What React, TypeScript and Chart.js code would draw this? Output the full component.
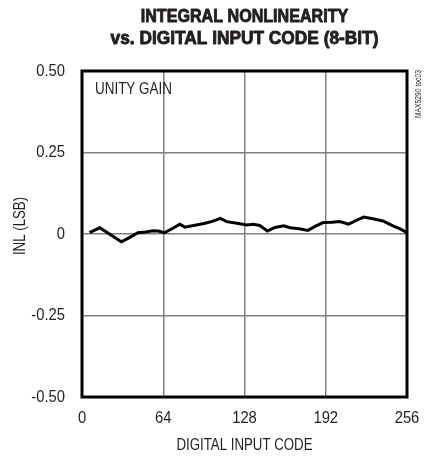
import React, { useEffect, useRef } from "react";
import { Chart, registerables } from "chart.js";

Chart.register(...registerables);

const titleLines = ["INTEGRAL NONLINEARITY", "vs. DIGITAL INPUT CODE (8-BIT)"];
const xAxisTitle = "DIGITAL INPUT CODE";
const yAxisTitle = "INL (LSB)";
const noteText = "UNITY GAIN";
const figureTag = "MAX5290 toc03";

const xTickValues = [0, 64, 128, 192, 256];
const xTickLabels = ["0", "64", "128", "192", "256"];
const yTickValues = [0.5, 0.25, 0, -0.25, -0.5];
const yTickLabels = ["0.50", "0.25", "0", "-0.25", "-0.50"];

const codes = [6, 10, 14, 18, 24, 31, 37, 44, 50, 56, 60, 65, 71, 77, 81, 88, 96, 102, 109, 114, 122, 130, 135, 140, 146, 152, 159, 164, 171, 178, 184, 190, 197, 203, 210, 216, 222, 230, 237, 245, 251, 256];
const inl = [0.004, 0.012, 0.019, 0.009, -0.006, -0.024, -0.012, 0.004, 0.006, 0.01, 0.009, 0.004, 0.016, 0.03, 0.021, 0.026, 0.032, 0.038, 0.048, 0.038, 0.033, 0.028, 0.03, 0.026, 0.009, 0.02, 0.025, 0.019, 0.016, 0.011, 0.024, 0.035, 0.036, 0.038, 0.03, 0.042, 0.052, 0.046, 0.04, 0.025, 0.015, 0.004];

const FONT = "'Liberation Sans', Arial, sans-serif";
const TEXT = "#231f20";

function drawText(
  ctx: CanvasRenderingContext2D,
  text: string,
  x: number,
  y: number,
  size: number,
  sx: number,
  align: CanvasTextAlign,
  weight = "normal",
  rot = 0,
  stroke = 0
) {
  ctx.save();
  ctx.translate(x, y);
  if (rot) ctx.rotate(rot);
  ctx.scale(sx, 1);
  ctx.font = `${weight} ${size}px ${FONT}`;
  ctx.textAlign = align;
  ctx.textBaseline = "middle";
  ctx.fillStyle = TEXT;
  ctx.fillText(text, 0, 0);
  if (stroke) {
    ctx.strokeStyle = TEXT;
    ctx.lineWidth = stroke;
    ctx.lineJoin = "round";
    ctx.strokeText(text, 0, 0);
  }
  ctx.restore();
}

const overlay = {
  id: "overlay",
  afterDraw(chart: any) {
    const { ctx, chartArea, scales } = chart;
    const { left, right, top, bottom } = chartArea;
    const cx = (left + right) / 2;
    ctx.save();
    ctx.strokeStyle = "#000";
    ctx.lineWidth = 3;
    ctx.strokeRect(left, top, right - left, bottom - top);
    ctx.restore();

    // title
    drawText(ctx, titleLines[0], cx, 16.5, 18.5, 0.87, "center", "bold", 0, 0.9);
    drawText(ctx, titleLines[1], cx, 38.5, 18.5, 0.935, "center", "bold", 0, 0.9);

    // x ticks
    xTickValues.forEach((v, i) => {
      drawText(ctx, xTickLabels[i], scales.x.getPixelForValue(v), bottom + 21.5, 17, 0.87, "center");
    });
    // y ticks
    yTickValues.forEach((v, i) => {
      drawText(ctx, yTickLabels[i], left - 17, scales.y.getPixelForValue(v), 17, 0.87, "right");
    });

    drawText(ctx, xAxisTitle, cx, bottom + 48, 17, 0.78, "center");
    drawText(ctx, yAxisTitle, 20, 226, 17, 0.78, "center", "normal", -Math.PI / 2);
    drawText(ctx, noteText, left + 13, top + 18, 17, 0.79, "left");
    drawText(ctx, figureTag, right + 12, top - 1, 9, 0.75, "right", "normal", -Math.PI / 2);
  },
};

export default function App() {
  const ref = useRef<HTMLCanvasElement>(null);
  useEffect(() => {
    if (!ref.current) return;
    const chart = new Chart(ref.current, {
      type: "line",
      data: {
        datasets: [
          {
            data: codes.map((c, i) => ({ x: c, y: inl[i] })),
            borderColor: "#000",
            borderWidth: 3,
            pointRadius: 0,
            tension: 0,
            fill: false,
          },
        ],
      },
      options: {
        animation: false,
        responsive: false,
        layout: { padding: { left: 0, right: 17, top: 71, bottom: 0 } },
        plugins: {
          legend: { display: false },
          tooltip: { enabled: false },
          title: { display: false },
        },
        scales: {
          x: {
            type: "linear",
            min: 0,
            max: 256,
            afterBuildTicks: (s: any) => {
              s.ticks = xTickValues.map((v) => ({ value: v }));
            },
            afterFit: (s: any) => {
              s.height = 59;
            },
            ticks: { display: false },
            grid: { color: "#808080", lineWidth: 1.5, drawTicks: false },
            border: { display: false },
          },
          y: {
            type: "linear",
            min: -0.5,
            max: 0.5,
            afterBuildTicks: (s: any) => {
              s.ticks = yTickValues.map((v) => ({ value: v }));
            },
            afterFit: (s: any) => {
              s.width = 82;
            },
            ticks: { display: false },
            grid: { color: "#808080", lineWidth: 1.5, drawTicks: false },
            border: { display: false },
          },
        },
      },
      plugins: [overlay],
    });
    return () => chart.destroy();
  }, []);
  return (
    <div style={{ position: "fixed", left: 0, top: 0, width: 424, height: 456, background: "#fff" }}>
      <canvas ref={ref} width={424} height={456} />
    </div>
  );
}
